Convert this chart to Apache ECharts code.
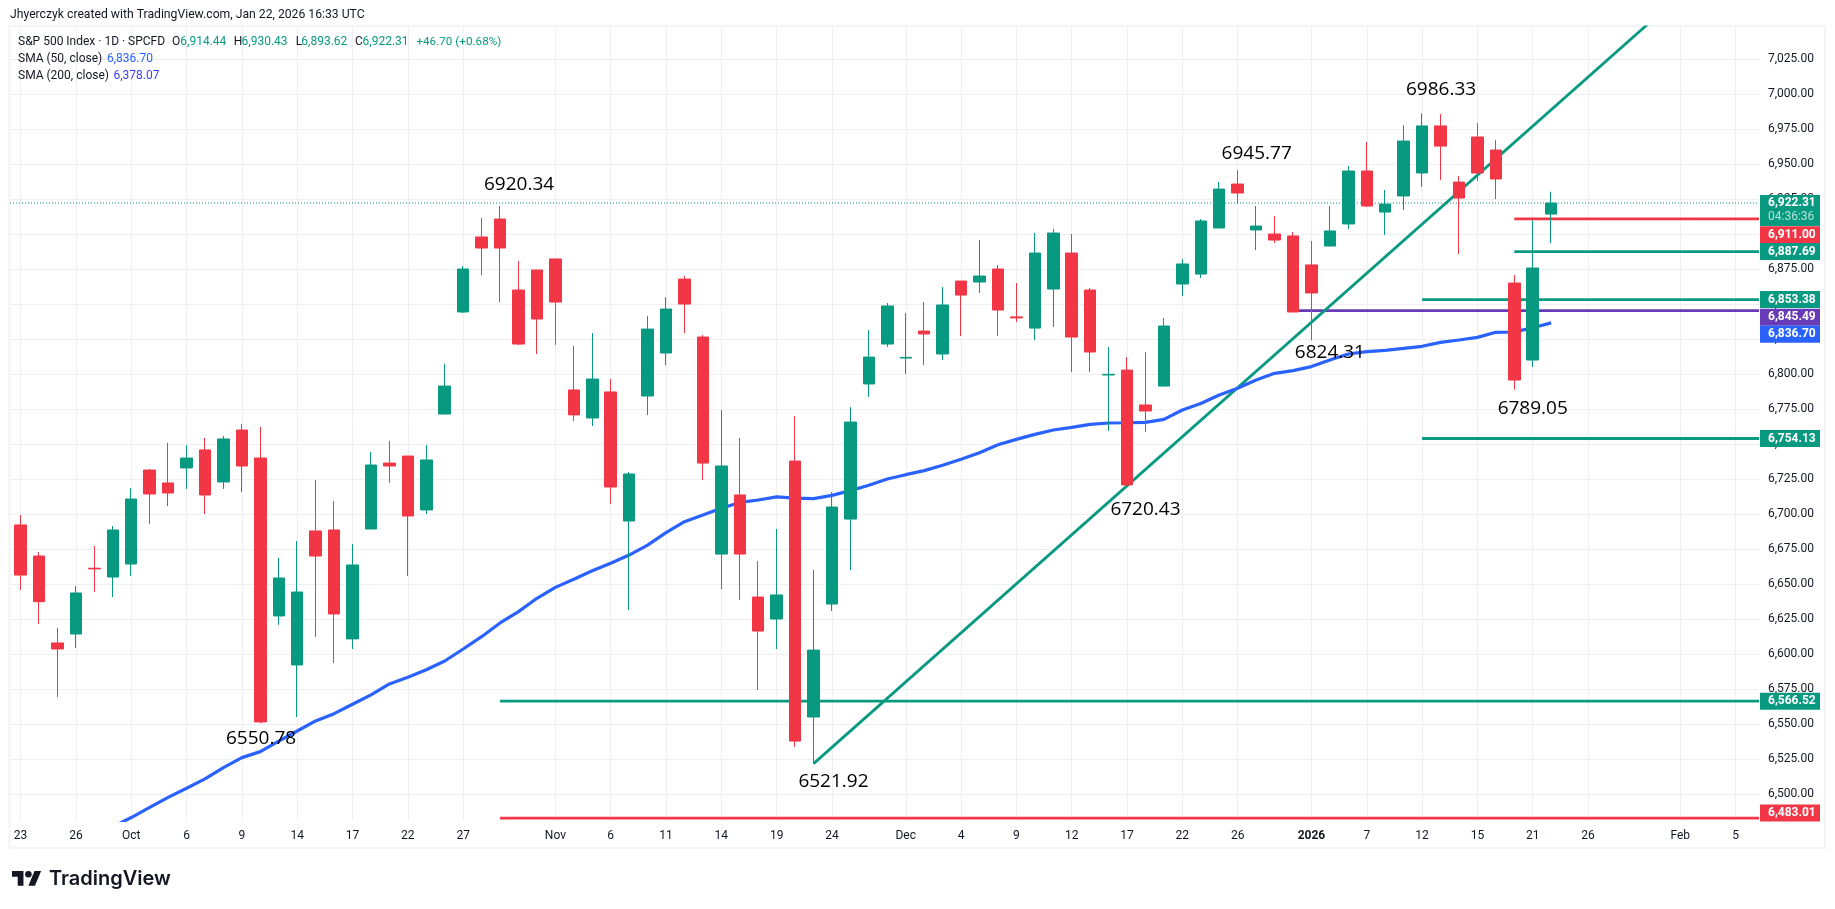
<!DOCTYPE html>
<html>
<head>
<meta charset="utf-8">
<style>
  html, body { margin: 0; padding: 0; background: #fff; }
  #chart { width: 1835px; height: 909px; }
</style>
<script src="https://cdn.jsdelivr.net/npm/echarts@6/dist/echarts.min.js"></script>
</head>
<body>
<div id="chart"></div>
<script>
// daily bars, Sep 23 2025 -> Jan 22 2026
const opens = [6692.4,6670.2,6608.1,6614.5,6661.5,6655.2,6664.5,6731.6,6722.4,6733.1,6746,6723.1,6760.2,6740.2,6627.4,6592.4,6688.1,6688.8,6611,6689.5,6736.6,6741.6,6703.1,6771.6,6844.5,6898.1,6910.9,6860.2,6874.5,6882.4,6788.8,6768.8,6787.4,6695.2,6784.5,6815.2,6868,6826.6,6671.6,6713.8,6640.9,6625.2,6738,6555.2,6635.9,6696.6,6793.1,6821.6,6811.6,6830.9,6814.5,6866.6,6865.9,6875.2,6841,6833,6860.9,6886.6,6860.2,6799.5,6803,6778.1,6791.6,6864.5,6871.6,6904.5,6935.9,6903.1,6900.2,6898.8,6878.1,6891.6,6907.4,6945.2,6915.9,6927.4,6943.8,6977.4,6937.3,6969.5,6960.2,6865.2,6810.2,6914.44];
const closes = [6656.6,6637.6,6603.8,6643.8,6661,6688.8,6710.9,6714.5,6715.2,6740.2,6713.8,6753.8,6734.5,6551.7,6654.5,6644.5,6670.2,6628.8,6663.8,6735.2,6734.5,6698.8,6738.8,6791.6,6875.2,6890.2,6890.2,6821.6,6839.5,6851.6,6771,6796.6,6719.5,6728.8,6832.3,6846.6,6850.2,6736.6,6734.5,6671.6,6616.6,6642.4,6538,6603,6705.2,6765.9,6812.3,6848.8,6812.1,6828.8,6849.5,6856.6,6870.2,6845.9,6840.3,6886.6,6900.9,6826.6,6815.9,6800,6721,6773.8,6834.5,6878.8,6909.5,6932.3,6929.5,6905.9,6895.9,6844.5,6858.1,6902.4,6945.2,6920.2,6921.6,6966.6,6977.4,6963,6925.9,6943.8,6939.5,6795.9,6875.9,6922.31];
const lows = [6645.9,6621.7,6569.5,6604.5,6644.5,6640.9,6655.9,6693.1,6705.9,6718.1,6700.2,6718.1,6715.9,6550.78,6621,6555.2,6612.4,6593.8,6603.8,6689.5,6722.4,6655.9,6700.2,6771.6,6843.8,6870.9,6851.6,6821,6814.5,6821,6766.6,6763.1,6707.4,6631.6,6770.9,6806.6,6829.5,6724.5,6646.6,6638.8,6574.5,6603.8,6533.8,6521.92,6630.9,6660.2,6783.8,6819.5,6800.2,6806.6,6810.2,6827.3,6858.1,6827.3,6837.3,6824.5,6833.8,6801.6,6801.6,6759.5,6720.43,6758.8,6791.6,6855.9,6868.8,6904.5,6921.6,6888.8,6893.8,6844.5,6824.31,6891.6,6903.8,6919.5,6899.5,6917.4,6933.8,6938.8,6885.9,6938.1,6925.2,6789.05,6805.2,6893.62];
const highs = [6699.5,6673.1,6618.8,6648.8,6677.4,6691.6,6718.8,6732.4,6751,6749.5,6754.5,6755.9,6764.5,6762.4,6668.8,6680.9,6724.5,6709.5,6678.8,6744.5,6752.4,6741.6,6749.5,6807.4,6877.4,6911.6,6920.34,6880.9,6874.5,6882.4,6820.2,6829.5,6796.6,6730.2,6841.6,6855.2,6870.2,6828,6774.5,6754.5,6666.6,6689.5,6770.2,6660.2,6715.9,6776.6,6831.6,6850.9,6843.8,6851.6,6862.3,6866.6,6895.9,6878.1,6865.2,6900.9,6903.8,6900.2,6861.6,6819.5,6812.3,6815.9,6840.2,6882.3,6910.9,6937.3,6945.77,6920.2,6913.1,6901.6,6895.2,6920.2,6948.8,6965.9,6931.6,6978,6986.33,6985.9,6941.6,6979.5,6967.4,6870.9,6910.2,6930.43];

// SMA 50, first value sits on bar 5
const smaStart = 5;
const sma50 = [6476.8,6483.4,6490.7,6497.8,6504.3,6511,6519,6526.2,6530.5,6538,6545.2,6552.4,6557.6,6564.3,6571,6578.8,6583.6,6589,6595.2,6603.8,6612.6,6622.4,6630.5,6640,6647.8,6653.6,6659.7,6665,6670.9,6678,6686.9,6694.7,6699.5,6704.3,6708.5,6710.2,6712.4,6711.6,6711.2,6713.5,6716.9,6720.7,6725.2,6728.3,6731.2,6735,6739.3,6744,6749.7,6753.5,6757.1,6760.2,6762.1,6764.2,6765.2,6765.4,6765.7,6767.8,6774.5,6779.2,6785.2,6790,6795.9,6800.7,6802.6,6805.5,6810.2,6814.5,6816.2,6817.1,6818.5,6820,6822.8,6824.5,6826.4,6830,6830.2,6833.3,6836.7];

// drawn levels: price, bar where the line starts
const levelPrices = [6911.00,6887.69,6853.38,6845.49,6754.13,6566.52,6483.01];
const levelStarts = [81,81,76,69,76,26,26];
const levelColors = ['#F23645','#089981','#089981','#673AB7','#089981','#089981','#F23645'];
const trendLine = [[43,6521.92],[89,7059]];
const lastPrice = 6922.31;

const tickBars = [0,3,6,9,12,15,18,21,24,29,32,35,38,41,44,48,51,54,57,60,63,66,70,73,76,79,82,85,90,93];
const tickNames = ['23','26','Oct','6','9','14','17','22','27','Nov','6','11','14','19','24','Dec','4','9','12','17','22','26','2026','7','12','15','21','26','Feb','5'];
const priceTicks = [6500,6525,6550,6575,6600,6625,6650,6675,6700,6725,6750,6775,6800,6825,6850,6875,6900,6925,6950,6975,7000,7025];

// price tags on the right scale
const tagPrices = [6911.00,6887.69,6853.38,6845.49,6836.70,6754.13,6566.52,6483.01];
const tagColors = ['#F23645','#089981','#089981','#673AB7','#2962FF','#089981','#089981','#F23645'];
const tagShift = [15.8,0,0,6.7,11.3,0,0,-5]; // pushed apart so they do not overlap

const noteTexts = ['6920.34','6945.77','6986.33','6824.31','6789.05','6720.43','6521.92','6550.78'];
const noteBars = [27.03,67.03,77.03,71,82,61,44.08,13.04];
const notePrices = [6935.7,6957.9,7003.6,6815.2,6775.7,6703.6,6509,6540];

const FONT = 'Roboto';
const UP = '#089981', DOWN = '#F23645', BLUE = '#2962FF';
const X_MIN = -0.575, X_MAX = 94.27;
const GRID = '#eeeff1';

const fmtPrice = v => v.toLocaleString('en-US', { minimumFractionDigits: 2, maximumFractionDigits: 2 });

const headerText = (x, y, text, fill, size) => ({
  type: 'text',
  x, y,
  silent: true,
  z: 20,
  style: { text, fill: fill || '#131722', font: `${size || 12}px ${FONT}`, textVerticalAlign: 'middle' }
});

const levelSeries = levelPrices.map((p, i) => ({
  type: 'line',
  data: [[levelStarts[i], p], [X_MAX, p]],
  showSymbol: false,
  silent: true,
  z: 1,
  lineStyle: { color: levelColors[i], width: 2.8 }
}));

const option = {
  animation: false,
  backgroundColor: '#fff',
  textStyle: { fontFamily: FONT },
  grid: { left: 10, top: 27, width: 1749, height: 793.5 },
  xAxis: {
    type: 'value',
    min: X_MIN,
    max: X_MAX,
    axisLine: { show: false },
    axisTick: { show: false, customValues: tickBars },
    splitLine: { show: true, lineStyle: { color: GRID, width: 1 } },
    axisLabel: {
      customValues: tickBars,
      margin: 9,
      fontSize: 12,
      color: '#131722',
      fontFamily: FONT,
      formatter: v => {
        const name = tickNames[tickBars.indexOf(v)];
        return name === '2026' ? `{b|${name}}` : name;
      },
      rich: { b: { fontWeight: 'bold', fontSize: 12, color: '#131722', fontFamily: FONT } }
    }
  },
  yAxis: {
    type: 'value',
    position: 'right',
    min: 6481.29,
    max: 7048.07,
    axisLine: { show: false },
    axisTick: { show: false, customValues: priceTicks },
    splitLine: { show: true, lineStyle: { color: GRID, width: 1 } },
    axisLabel: {
      customValues: priceTicks,
      margin: 9,
      fontSize: 12,
      color: '#131722',
      fontFamily: FONT,
      formatter: v => fmtPrice(v)
    }
  },
  series: [
    ...levelSeries,
    {
      type: 'line',
      data: [[X_MIN, lastPrice], [X_MAX, lastPrice]],
      showSymbol: false,
      silent: true,
      z: 1,
      lineStyle: { color: UP, width: 1, type: [1, 2] }
    },
    {
      type: 'line',
      data: trendLine,
      showSymbol: false,
      silent: true,
      z: 1,
      lineStyle: { color: UP, width: 2.8 }
    },
    {
      type: 'line',
      data: sma50.map((v, i) => [smaStart + i, v]),
      showSymbol: false,
      silent: true,
      z: 1,
      lineStyle: { color: BLUE, width: 3.2 }
    },
    {
      type: 'candlestick',
      z: 3,
      barWidth: 12,
      encode: { x: 0, y: [1, 2, 3, 4] },
      data: opens.map((o, i) => [i, o, closes[i], lows[i], highs[i]]),
      itemStyle: { color: UP, color0: DOWN, borderColor: UP, borderColor0: DOWN, borderWidth: 1 }
    },
    {
      // handwritten price notes
      type: 'custom',
      z: 5,
      silent: true,
      encode: { x: 0, y: 1 },
      data: noteBars.map((b, i) => [b, notePrices[i]]),
      renderItem: (params, api) => {
        const p = api.coord([api.value(0), api.value(1)]);
        return {
          type: 'text',
          x: p[0], y: p[1],
          style: { text: noteTexts[params.dataIndex], fill: '#000', font: '19px "Open Sans"', textAlign: 'center', textVerticalAlign: 'middle' }
        };
      }
    },
    {
      // scale tags, drawn over the axis labels
      type: 'custom',
      z: 6,
      silent: true,
      encode: { x: 0, y: 1 },
      data: tagPrices.map(p => [X_MAX, p]),
      renderItem: (params, api) => {
        const i = params.dataIndex;
        const y = api.coord([api.value(0), api.value(1)])[1] + tagShift[i];
        return {
          type: 'group',
          children: [
            { type: 'rect', shape: { x: 1760, y: y - 8.5, width: 60, height: 17 }, style: { fill: tagColors[i] } },
            { type: 'text', x: 1768, y, style: { text: fmtPrice(tagPrices[i]), fill: '#fff', font: `bold 12px ${FONT}`, textVerticalAlign: 'middle' } }
          ]
        };
      }
    },
    {
      // last price tag with the countdown under it
      type: 'custom',
      z: 6,
      silent: true,
      encode: { x: 0, y: 1 },
      data: [[X_MAX, lastPrice]],
      renderItem: (params, api) => {
        const y = api.coord([api.value(0), api.value(1)])[1];
        return {
          type: 'group',
          children: [
            { type: 'rect', shape: { x: 1760, y: y - 8, width: 60, height: 31 }, style: { fill: UP } },
            { type: 'text', x: 1768, y, style: { text: fmtPrice(lastPrice), fill: '#fff', font: `bold 12px ${FONT}`, textVerticalAlign: 'middle' } },
            { type: 'text', x: 1768, y: y + 14, style: { text: '04:36:36', fill: '#b5e0d6', font: `12px ${FONT}`, textVerticalAlign: 'middle' } }
          ]
        };
      }
    }
  ],
  graphic: [
    // chart frame
    { type: 'rect', silent: true, z: 0, shape: { x: 9.5, y: 26, width: 1815.5, height: 822 }, style: { fill: 'none', stroke: '#f3f4f6', lineWidth: 2 } },
    headerText(10, 15, 'Jhyerczyk created with TradingView.com, Jan 22, 2026 16:33 UTC', null, 12.2),
    headerText(18, 42, 'S&P 500 Index · 1D · SPCFD'),
    headerText(172, 42, 'O'),
    headerText(180.3, 42, '6,914.44', UP),
    headerText(233.7, 42, 'H'),
    headerText(241.6, 42, '6,930.43', UP),
    headerText(295.8, 42, 'L'),
    headerText(301.3, 42, '6,893.62', UP),
    headerText(355, 42, 'C'),
    headerText(362.6, 42, '6,922.31', UP),
    headerText(416.4, 42, '+46.70 (+0.68%)', UP, 11.7),
    headerText(18, 59, 'SMA (50, close)'),
    headerText(107, 59, '6,836.70', BLUE),
    headerText(18, 76, 'SMA (200, close)'),
    headerText(113.5, 76, '6,378.07', '#3d3dff'),
    // TradingView mark
    {
      type: 'group',
      silent: true,
      x: 12, y: 867.7,
      scaleX: 0.82, scaleY: 0.82,
      children: [
        { type: 'polygon', shape: { points: [[0, 4], [14, 4], [14, 22], [7, 22], [7, 11], [0, 11]] }, style: { fill: '#131722' } },
        { type: 'polygon', shape: { points: [[27.5, 4], [35.5, 4], [28, 22], [20, 22]] }, style: { fill: '#131722' } },
        { type: 'circle', shape: { cx: 20, cy: 8, r: 4 }, style: { fill: '#131722' } }
      ]
    },
    {
      type: 'text',
      silent: true,
      x: 49, y: 879,
      style: { text: 'TradingView', fill: '#131722', font: '600 20px Inter', textVerticalAlign: 'middle' }
    }
  ]
};

const chart = echarts.init(document.getElementById('chart'));
chart.setOption(option);
</script>
</body>
</html>
